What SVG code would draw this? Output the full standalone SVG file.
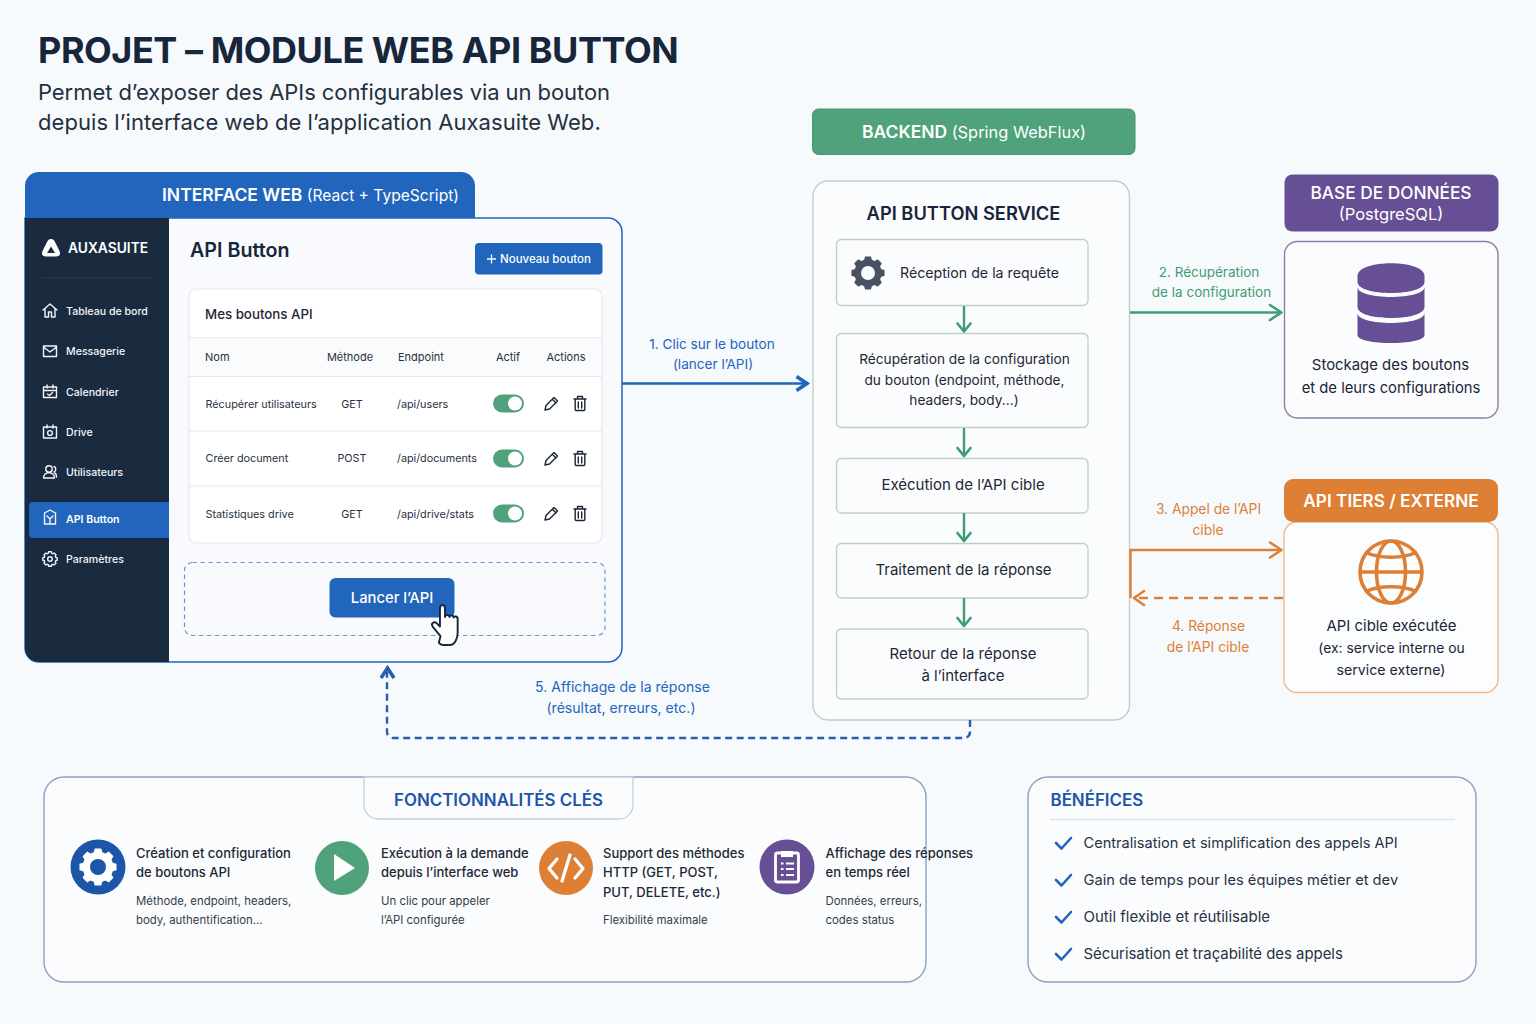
<svg xmlns="http://www.w3.org/2000/svg" width="1536" height="1024" viewBox="0 0 1536 1024">
<style>
text{font-family:"Inter","Noto Sans","Liberation Sans",sans-serif;fill:#1b2536}
.m{text-anchor:middle}
.b{font-weight:700}.sb{font-weight:600}
.nav{font-size:10.6px;fill:#f2f5f9;font-weight:500}
.th{font-size:11px;fill:#27323f}
.td{font-size:10.800px;fill:#27323f}
.step{font-size:15px;fill:#1d2737}
.s2{font-size:13.700px}
.ft{font-size:13px;fill:#1d2737;font-weight:500}
.fs{font-size:11.400px;fill:#333d4b}
.ben{font-size:14.700px;fill:#283242}
.lb{font-size:13.600px;fill:#2265bc}.lg{font-size:13.500px;fill:#3f9d72}.lo{font-size:13.800px;fill:#dd7f34}
.card{fill:#fbfcfd;stroke:#bcd0cb;stroke-width:1.3}
.ni{fill:none;stroke:#f2f5f9;stroke-width:1.4;stroke-linejoin:round;stroke-linecap:round}
.ai{fill:none;stroke:#1b2536;stroke-width:1.4;stroke-linejoin:round;stroke-linecap:round}
.row{stroke:#e4e9ee;stroke-width:1.2}
.cn{fill:none;stroke-width:2.4}
.ah{fill:none;stroke-width:2.6;stroke-linecap:round;stroke-linejoin:round}
.ahb{fill:none;stroke-width:3.600;stroke-linejoin:miter}
.chk{fill:none;stroke:#2265bc;stroke-width:2.600;stroke-linecap:round;stroke-linejoin:round}
</style>
<defs>
<path id="gear" transform="translate(0 -4)" d="M-3.2-14h6.4l1 3.6 3 1.25 3.3-1.85 4.5 4.5-1.85 3.3 1.25 3 3.6 1v6.4l-3.6 1-1.25 3 1.85 3.3-4.5 4.5-3.3-1.85-3 1.25-1 3.6h-6.4l-1-3.6-3-1.25-3.3 1.85-4.5-4.5 1.85-3.3-1.25-3-3.6-1v-6.4l3.6-1 1.25-3-1.85-3.3 4.5-4.5 3.3 1.85 3-1.25z"/>
<g id="toggle"><rect x="0" y="-9" width="31" height="18" rx="9" fill="#4fa27c"/><circle cx="22" cy="0" r="7" fill="#fff"/></g>
<g id="edit"><path class="ai" d="M-6 6.500l1-4.500 8-8 3.500 3.500-8 8zM1.500-4l3.500 3.500"/></g>
<g id="trash"><path class="ai" d="M-6-4.500h12M-2.500-4.500v-2.500h5v2.500M-4.800-4.500v10.500a1 1 0 0 0 1 1h7.600a1 1 0 0 0 1-1v-10.500M-1.700-1.500v6M1.700-1.500v6"/></g>
<path id="chk" class="chk" d="M0 0l5.500 5.500 9.500-10.500"/>
</defs>
<rect width="1536" height="1024" fill="#f7fafd"/>

<g id="title">
<text x="38" y="63" class="b" font-size="36" letter-spacing="-.45" style="fill:#17263b">PROJET – MODULE WEB API BUTTON</text>
<text x="38" y="100" font-size="22" letter-spacing="-.07" style="fill:#25303f">Permet d’exposer des APIs configurables via un bouton</text>
<text x="38" y="130" font-size="22" letter-spacing=".06" style="fill:#25303f">depuis l’interface web de l’application Auxasuite Web.</text>
</g>

<g id="interface-web">
<path d="M25 232V186a14 14 0 0 1 14-14H461a14 14 0 0 1 14 14V232z" fill="#2265bc"/>
<text x="162" y="201" font-size="17.500" class="sb" style="fill:#fff">INTERFACE WEB <tspan font-weight="400" font-size="15.600">(React + TypeScript)</tspan></text>
<path d="M25 218H608a14 14 0 0 1 14 14V648a14 14 0 0 1-14 14H39a14 14 0 0 1-14-14z" fill="#f8fafd" stroke="#2265bc" stroke-width="1.500"/>
<path d="M25 218H169V662H39a14 14 0 0 1-14-14z" fill="#1a2b40"/>
<path d="M51 239c2 0 3 1 4 3l4 8c2 4 1 6.500-3 6.500H46c-4 0-5-2.500-3-6.500l4-8c1-2 2-3 4-3z" fill="#fff"/><path d="M51 246.500l-4 6.500h8z" fill="#1a2b40"/>
<text x="68" y="253" font-size="13.800" class="sb" style="fill:#fff">AUXASUITE</text>
<path d="M42 278H152" stroke="#2b3c50" stroke-width="1"/>
<path class="ni" d="M43 310l7-6 7 6M45 308.500v8.500h3.500v-5h3v5h3.500v-8.500"/><text x="66" y="314.700" class="nav">Tableau de bord</text>
<path class="ni" d="M43.500 346h13v10.500h-13zM43.500 347l6.500 5 6.500-5"/><text x="66" y="355" class="nav">Messagerie</text>
<path class="ni" d="M43.500 387h13v10.500h-13zM43.500 390.500h13M47 385v3M53 385v3M47.500 394l2 1.500 3-3"/><text x="66" y="395.700" class="nav">Calendrier</text>
<path class="ni" d="M43.500 427h13v11h-13zM47 425v3M53 425v3"/><circle class="ni" cx="50" cy="433" r="2.400"/><text x="66" y="436" class="nav">Drive</text>
<circle class="ni" cx="49" cy="469" r="3.200"/><path class="ni" d="M43.500 478c0-7 11-7 11 0zM54 466.500a3 3 0 0 1 0 5.500M56.500 477c0-2-.5-3.500-2-4"/><text x="66" y="476" class="nav">Utilisateurs</text>
<path d="M29 506a4 4 0 0 1 4-4H169v36H33a4 4 0 0 1-4-4z" fill="#2265bc"/>
<path class="ni" d="M44.500 513l5.500-3 5.500 3v11h-11zM47 516l3 3 3-3M50 519v5"/><text x="66" y="523" class="nav" style="fill:#fff;font-weight:600">API Button</text>
<use href="#gear" transform="translate(50 559) scale(.4)" fill="none" stroke="#f2f5f9" stroke-width="3.400"/><circle class="ni" cx="50" cy="559" r="2.300"/><text x="66" y="563" class="nav">Paramètres</text>

<text x="190" y="257" font-size="19.700" class="sb" style="fill:#17263b">API Button</text>
<rect x="475" y="243" width="127.500" height="31.500" rx="4" fill="#2265bc"/>
<path d="M487 259h9M491.500 254.500v9" stroke="#fff" stroke-width="1.300"/>
<text x="500" y="263" font-size="11.500" style="fill:#fff;font-weight:500">Nouveau bouton</text>
<rect x="189" y="289" width="413" height="254" rx="7" fill="#fff" stroke="#e3e8ee" stroke-width="1.200"/>
<text x="205" y="319" font-size="13.300" style="fill:#1d2737;font-weight:500">Mes boutons API</text>
<rect x="189.500" y="337.500" width="412" height="39" fill="#fafbfd"/>
<path class="row" d="M189 337.500H602M189 376.500H602M189 431H602M189 486H602"/>
<text x="205" y="361" class="th">Nom</text><text x="350" y="361" class="th m">Méthode</text><text x="398" y="361" class="th">Endpoint</text><text x="508" y="361" class="th m">Actif</text><text x="566" y="361" class="th m">Actions</text>
<text x="205.500" y="407.700" class="td">Récupérer utilisateurs</text><text x="352" y="407.700" class="td m">GET</text><text x="397" y="407.700" class="td">/api/users</text>
<use href="#toggle" x="493" y="403.500"/><use href="#edit" x="551" y="403.500"/><use href="#trash" x="580" y="403.500"/>
<text x="205.500" y="462" class="td">Créer document</text><text x="352" y="462" class="td m">POST</text><text x="397" y="462" class="td">/api/documents</text>
<use href="#toggle" x="493" y="458.500"/><use href="#edit" x="551" y="458.500"/><use href="#trash" x="580" y="458.500"/>
<text x="205.500" y="517.700" class="td">Statistiques drive</text><text x="352" y="517.700" class="td m">GET</text><text x="397" y="517.700" class="td">/api/drive/stats</text>
<use href="#toggle" x="493" y="513.500"/><use href="#edit" x="551" y="513.500"/><use href="#trash" x="580" y="513.500"/>
<rect x="184.500" y="562.500" width="420.500" height="73" rx="8" fill="#f8fafd" stroke="#6d95d0" stroke-width="1.200" stroke-dasharray="4.500 3.500"/>
<rect x="329.500" y="578" width="125" height="39.500" rx="6" fill="#2265bc"/>
<text x="392" y="603" class="m" font-size="14.800" style="fill:#fff;font-weight:500">Lancer l’API</text>
<path transform="translate(445 626) scale(1.120) translate(-443.500 -626)" d="M439.500 635l-7-8.500c-2-3 1.500-5 3.500-3l3 3V610c0-3.500 4.500-3.500 4.500 0v8c0-2.500 4-2.500 4 0 0-2 3.800-2 3.800.5 0-1.500 3.500-1.500 3.500 1V632c0 5-2.500 11-7 11h-6c-1.500 0-2.800-.5-3.800-2z" fill="#fff" stroke="#17263b" stroke-width="1.700" stroke-linejoin="round"/>
</g>

<g id="backend-label">
<rect x="812.500" y="109" width="322.500" height="45.500" rx="6" fill="#4fa27c" stroke="#46966f"/>
<text x="974" y="138" class="m sb" font-size="17.500" style="fill:#fff">BACKEND <tspan font-weight="400" font-size="16.400">(Spring WebFlux)</tspan></text>
</g>

<g id="api-button-service">
<rect x="813" y="181" width="316.500" height="539" rx="15" fill="#fbfcfd" stroke="#bcd0cb" stroke-width="1.400"/>
<text x="963.500" y="220" class="m" font-size="18.300" style="fill:#17263b;font-weight:600">API BUTTON SERVICE</text>
</g>
<g id="step-reception"><rect class="card" x="836.500" y="239.500" width="251.500" height="66" rx="5"/>
<use href="#gear" transform="translate(868 273) scale(.92)" fill="#495260"/><circle cx="868" cy="273" r="7" fill="#fbfcfd"/>
<text x="979.500" y="278" class="step m" style="font-size:14.200px">Réception de la requête</text></g>
<g id="step-config"><rect class="card" x="836.500" y="333.500" width="251.500" height="94" rx="5"/>
<text x="964.500" y="364" class="step m s2">Récupération de la configuration</text>
<text x="964.500" y="385" class="step m s2">du bouton (endpoint, méthode,</text>
<text x="964" y="405" class="step m s2">headers, body...)</text></g>
<g id="step-exec"><rect class="card" x="836.500" y="458.500" width="251.500" height="54.500" rx="5"/><text x="963" y="490" class="step m">Exécution de l’API cible</text></g>
<g id="step-traitement"><rect class="card" x="836.500" y="543.500" width="251.500" height="54.500" rx="5"/><text x="963.500" y="575" class="step m">Traitement de la réponse</text></g>
<g id="step-retour"><rect class="card" x="836.500" y="629" width="251.500" height="70" rx="5"/><text x="963" y="659" class="step m">Retour de la réponse</text><text x="963" y="681" class="step m">à l’interface</text></g>

<g id="base-de-donnees">
<rect x="1284.500" y="174.500" width="214" height="57" rx="8" fill="#674f95"/>
<text x="1391" y="199" class="m" font-size="17.300" style="fill:#fff;font-weight:500">BASE DE DONNÉES</text>
<text x="1391" y="220" class="m" font-size="16.500" style="fill:#fff">(PostgreSQL)</text>
<rect x="1284.500" y="241.500" width="213.500" height="176.500" rx="13" fill="#fbfcfe" stroke="#8c80a8" stroke-width="1.400"/>
<g fill="#674f95">
<path d="M1357.500 276C1357.500 259 1424.500 259 1424.500 276V282C1424.500 296.700 1357.500 296.700 1357.500 282z"/>
<path d="M1357.500 287C1357.500 300.300 1424.500 300.300 1424.500 287V307C1424.500 321.700 1357.500 321.700 1357.500 307z"/>
<path d="M1357.500 313C1357.500 326.300 1424.500 326.300 1424.500 313V335C1424.500 345.700 1357.500 345.700 1357.500 335z"/>
</g>
<text x="1390.500" y="370" class="m" font-size="14.900">Stockage des boutons</text>
<text x="1391" y="393" class="m" font-size="14.800">et de leurs configurations</text>
</g>

<g id="api-tiers">
<rect x="1284" y="522" width="214" height="170.500" rx="13" fill="#fcfdfe" stroke="#f0b98a" stroke-width="1.400"/>
<rect x="1284" y="479" width="214" height="43" rx="9" fill="#dd7f34"/>
<text x="1391" y="507" class="m" font-size="17.200" style="fill:#fff;font-weight:600">API TIERS / EXTERNE</text>
<g fill="none" stroke="#dd7f34" stroke-width="3.600"><circle cx="1391" cy="572" r="31"/><ellipse cx="1391" cy="572" rx="14.500" ry="31"/><path d="M1360 572h62M1365 552c14 7 38 7 52 0M1365 592c14-7 38-7 52 0"/></g>
<text x="1391.500" y="631" class="m" font-size="14.900">API cible exécutée</text>
<text x="1391.500" y="653" class="m" font-size="13.900">(ex: service interne ou</text>
<text x="1391" y="675" class="m" font-size="14.200">service externe)</text>
</g>

<g id="connectors">
<g stroke="#3f9d72"><path class="cn" d="M964 306V330M964 428V455M964 513V540M964 598V625"/><path class="ah" d="M957.500 323.500L964 331.500 970.500 323.500M957.500 448L964 456 970.500 448M957.500 533L964 541 970.500 533M957.500 618L964 626 970.500 618"/></g>
<path class="cn" stroke="#3f9d72" d="M1130 312.500H1279"/><path class="ah" stroke="#3f9d72" stroke-width="3" d="M1270 305L1281.500 312.500 1270 320"/>
<path class="cn" stroke="#2265bc" d="M622 383.500H806"/><path class="ahb" stroke="#2265bc" d="M796.500 376.500L807 383.500 796.500 390.500"/>
<path class="cn" stroke="#dd7f34" d="M1130.500 598V550H1279"/><path class="ah" stroke="#dd7f34" d="M1270 542.500L1281.500 550 1270 557.500"/>
<path class="cn" stroke="#dd7f34" stroke-dasharray="9 6" d="M1283 598H1137"/><path class="ah" stroke="#dd7f34" stroke-width="3" d="M1144 591L1134 598 1144 605"/>
<path class="cn" stroke="#2a5cae" stroke-dasharray="7 4.500" d="M970 720V732a6 6 0 0 1-6 6H393a6 6 0 0 1-6-6V672"/><path class="ahb" stroke="#2a5cae" d="M381 678L387.500 668 394 678"/>
</g>
<g id="connector-labels">
<text x="712" y="349" class="lb m">1. Clic sur le bouton</text><text x="713" y="369" class="lb m">(lancer l’API)</text>
<text x="1209" y="277" class="lg m">2. Récupération</text><text x="1211.500" y="297" class="lg m">de la configuration</text>
<text x="1208.500" y="514" class="lo m">3. Appel de l’API</text><text x="1208" y="535" class="lo m">cible</text>
<text x="1208.500" y="631" class="lo m">4. Réponse</text><text x="1208" y="652" class="lo m">de l’API cible</text>
<text x="622.500" y="692" class="lb m" style="font-size:14.100px">5. Affichage de la réponse</text><text x="621" y="713" class="lb m" style="font-size:14.100px">(résultat, erreurs, etc.)</text>
</g>

<g id="fonctionnalites">
<rect x="44" y="777" width="882" height="205" rx="20" fill="#fafcfe" stroke="#8ba1c3" stroke-width="1.400"/>
<path d="M364 777V805a14 14 0 0 0 14 14H619a14 14 0 0 0 14-14V777z" fill="#fbfcfe" stroke="#c3d0e0" stroke-width="1.300"/>
<text x="498.500" y="806" class="m sb" font-size="16.900" style="fill:#1d55a8">FONCTIONNALITÉS CLÉS</text>
</g>
<g id="feature-creation"><circle cx="98" cy="867" r="27.500" fill="#1d55a8"/><use href="#gear" transform="translate(98 867) scale(1.030)" fill="#fff"/><circle cx="98" cy="867" r="8" fill="#1d55a8"/>
<text x="136" y="858" class="ft">Création et configuration</text><text x="136" y="877" class="ft">de boutons API</text>
<text x="136" y="905" class="fs">Méthode, endpoint, headers,</text><text x="136" y="924" class="fs">body, authentification...</text></g>
<g id="feature-execution"><circle cx="342" cy="868" r="27" fill="#4fa27c"/><path d="M334 854L355 868 334 881z" fill="#fff"/>
<text x="381" y="858" class="ft">Exécution à la demande</text><text x="381" y="877" class="ft">depuis l’interface web</text>
<text x="381" y="905" class="fs">Un clic pour appeler</text><text x="381" y="924" class="fs">l’API configurée</text></g>
<g id="feature-methodes"><circle cx="566" cy="868" r="27" fill="#dd7f34"/><path d="M557 859l-8 9.500 8 9.500M575 859l8 9.500-8 9.500M570 855l-8 26" fill="none" stroke="#fff" stroke-width="3.300" stroke-linecap="round" stroke-linejoin="round"/>
<text x="603" y="858" class="ft">Support des méthodes</text><text x="603" y="877" class="ft">HTTP (GET, POST,</text><text x="603" y="897" class="ft">PUT, DELETE, etc.)</text>
<text x="603" y="924" class="fs">Flexibilité maximale</text></g>
<g id="feature-affichage"><circle cx="787" cy="867" r="27.500" fill="#674f95"/><rect x="775.500" y="853" width="23" height="29" rx="2" fill="none" stroke="#fff" stroke-width="2.800"/><path d="M781 851h12v6h-12z" fill="#fff"/><path d="M781 863.500h2.500M786 863.500h8M781 869h2.500M786 869h8M781 875h2.500M786 875h8" stroke="#fff" stroke-width="2.200"/>
<text x="825.500" y="858" class="ft">Affichage des réponses</text><text x="825.500" y="877" class="ft">en temps réel</text>
<text x="825.500" y="905" class="fs">Données, erreurs,</text><text x="825.500" y="924" class="fs">codes status</text></g>

<g id="benefices">
<rect x="1028" y="777" width="448" height="205" rx="20" fill="#fafcfe" stroke="#8ba1c3" stroke-width="1.400"/>
<text x="1050.500" y="806" class="sb" font-size="16.900" style="fill:#1d55a8">BÉNÉFICES</text>
<path d="M1050 819.500H1455" stroke="#dfe5ec" stroke-width="1.300"/>
<use href="#chk" x="1056" y="843"/><text x="1083.500" y="847.700" class="ben" style="font-size:14.600px">Centralisation et simplification des appels API</text>
<use href="#chk" x="1056" y="880"/><text x="1083.500" y="884.700" class="ben">Gain de temps pour les équipes métier et dev</text>
<use href="#chk" x="1056" y="917"/><text x="1083.500" y="921.700" class="ben" style="font-size:15px">Outil flexible et réutilisable</text>
<use href="#chk" x="1056" y="954"/><text x="1083.500" y="958.700" class="ben" style="font-size:14.900px">Sécurisation et traçabilité des appels</text>
</g>
</svg>
